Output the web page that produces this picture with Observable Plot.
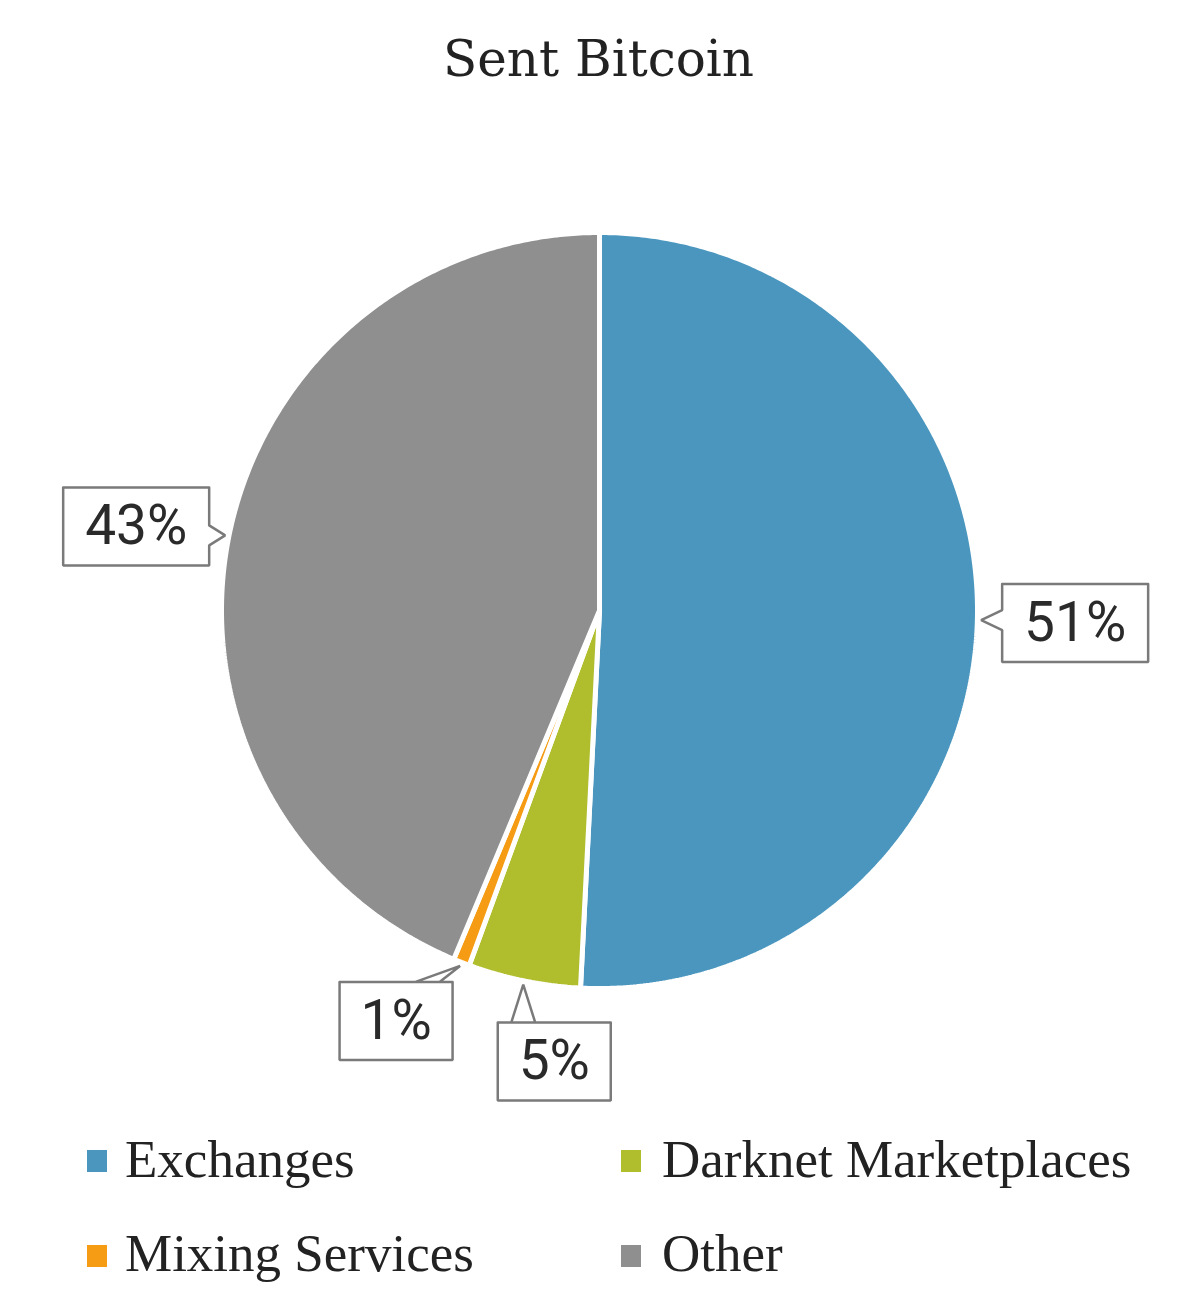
<!DOCTYPE html>
<html>
<head>
<meta charset="utf-8">
<script src="https://cdn.jsdelivr.net/npm/d3@7"></script>
<script src="https://cdn.jsdelivr.net/npm/@observablehq/plot@0.6"></script>
<style>
  html, body { margin: 0; padding: 0; background: #fff; }
  #page { position: relative; width: 1183px; height: 1308px; overflow: hidden; }
  #chart { position: absolute; left: 0; top: 0; }
  .title { position: absolute; left: 0; width: 1197px; text-align: center; top: 34px;
           font-family: "DejaVu Serif", serif; font-size: 50px; line-height: 50px; color: #222; white-space: nowrap; }
  .lg-sw { position: absolute; width: 20px; height: 22px; }
  .lg-tx { position: absolute; font-family: "Liberation Serif", serif; font-size: 53px; line-height: 53px; color: #222; white-space: nowrap; }
</style>
</head>
<body>
<div id="page">
  <div id="chart"></div>
</div>
<script>
// ---- data ----
const title = "Sent Bitcoin";
const categories = ["Exchanges", "Darknet Marketplaces", "Mixing Services", "Other"];
const shares = [50.8, 4.8, 0.7, 43.7];
const labels = ["51%", "5%", "1%", "43%"];
const colors = ["#4a96be", "#b0bd2c", "#f59c14", "#8f8f8f"];

// ---- layout (pixels) ----
const W = 1183, H = 1308;
const cx = 599, cy = 610, k = 378;        // pie centre & radius
const calloutOffset = {                    // box centre relative to callout tip
  "Exchanges": [94, 3],
  "Darknet Marketplaces": [31, 77],
  "Mixing Services": [-64, 55],
  "Other": [-89, -9]
};
const legendPos = {
  "Exchanges": [87, 1150, 125, 1133],
  "Darknet Marketplaces": [621, 1150, 662, 1133],
  "Mixing Services": [87, 1245, 125, 1227],
  "Other": [621, 1245, 662, 1227]
};

const toX = px => (px - cx) / k;
const toY = py => (cy - py) / k;

// ---- slices ----
const total = d3.sum(shares);
let acc = 0;
const slices = categories.map((c, i) => {
  const a0 = acc / total * 360;
  acc += shares[i];
  const a1 = acc / total * 360;
  return {cat: c, a0, a1, label: labels[i]};
});

const slicePts = [];
for (const s of slices) {
  slicePts.push({cat: s.cat, x: 0, y: 0});
  const n = Math.max(2, Math.ceil((s.a1 - s.a0) / 0.5));
  for (let j = 0; j <= n; j++) {
    const a = (s.a0 + (s.a1 - s.a0) * j / n) * Math.PI / 180;
    slicePts.push({cat: s.cat, x: Math.sin(a), y: Math.cos(a)});
  }
  slicePts.push({cat: s.cat, x: 0, y: 0});
}

// ---- callouts ----
const clamp = (v, lo, hi) => Math.max(lo, Math.min(hi, v));
const calloutPts = [];
const calloutText = [];
for (const s of slices) {
  const am = (s.a0 + s.a1) / 2 * Math.PI / 180;
  const tx = cx + 1.01 * k * Math.sin(am);
  const ty = cy - 1.01 * k * Math.cos(am);
  const [ox, oy] = calloutOffset[s.cat];
  const bcx = tx + ox, bcy = ty + oy;
  const nd = s.label.replace("%", "").length;
  const w = 80 + 33 * nd, h = 78;
  const L = bcx - w / 2, R = bcx + w / 2, T = bcy - h / 2, B = bcy + h / 2;
  let side;
  if (ty < T) side = "top"; else if (ty > B) side = "bottom";
  else if (tx < L) side = "left"; else side = "right";
  const bx = clamp(tx, L + 15, R - 25);
  const by = clamp(ty, T + 15, B - 15);
  const p = [[L, T]];
  if (side === "top") p.push([bx - 12, T], [tx, ty], [bx + 12, T]);
  p.push([R, T]);
  if (side === "right") p.push([R, by - 10], [tx, ty], [R, by + 10]);
  p.push([R, B]);
  if (side === "bottom") p.push([bx + 12, B], [tx, ty], [bx - 12, B]);
  p.push([L, B]);
  if (side === "left") p.push([L, by + 10], [tx, ty], [L, by - 10]);
  p.push([L, T], [R, T]);
  for (const [px, py] of p) calloutPts.push({cat: s.cat, x: toX(px), y: toY(py)});
  calloutText.push({cat: s.cat, label: s.label, x: toX(bcx), y: toY(bcy)});
}

const plot = Plot.plot({
  width: W, height: H,
  margin: 0,
  x: {domain: [toX(0), toX(W)], axis: null},
  y: {domain: [toY(H), toY(0)], axis: null},
  color: {domain: categories, range: colors},
  style: {background: "white"},
  marks: [
    Plot.line(slicePts, {x: "x", y: "y", z: "cat", fill: "cat", stroke: "white", strokeWidth: 5, strokeLinejoin: "miter"}),
    Plot.line(calloutPts, {x: "x", y: "y", z: "cat", fill: "white", stroke: "#7a7a7a", strokeWidth: 2.5, strokeLinejoin: "miter"}),
    Plot.text(calloutText, {x: "x", y: "y", text: "label", fontSize: 55, fontFamily: "Roboto, sans-serif", fill: "#2a2a2a"})
  ]
});
document.getElementById("chart").appendChild(plot);

// ---- title & legend ----
const page = document.getElementById("page");
const t = document.createElement("div");
t.className = "title";
t.textContent = title;
page.appendChild(t);

categories.forEach((c, i) => {
  const [sx, sy, tx, ty] = legendPos[c];
  const sw = document.createElement("div");
  sw.className = "lg-sw";
  sw.style.left = sx + "px"; sw.style.top = sy + "px";
  sw.style.background = plot.scale("color").apply(c);
  page.appendChild(sw);
  const tx_ = document.createElement("div");
  tx_.className = "lg-tx";
  tx_.style.left = tx + "px"; tx_.style.top = ty + "px";
  tx_.textContent = c;
  page.appendChild(tx_);
});
</script>
</body>
</html>
